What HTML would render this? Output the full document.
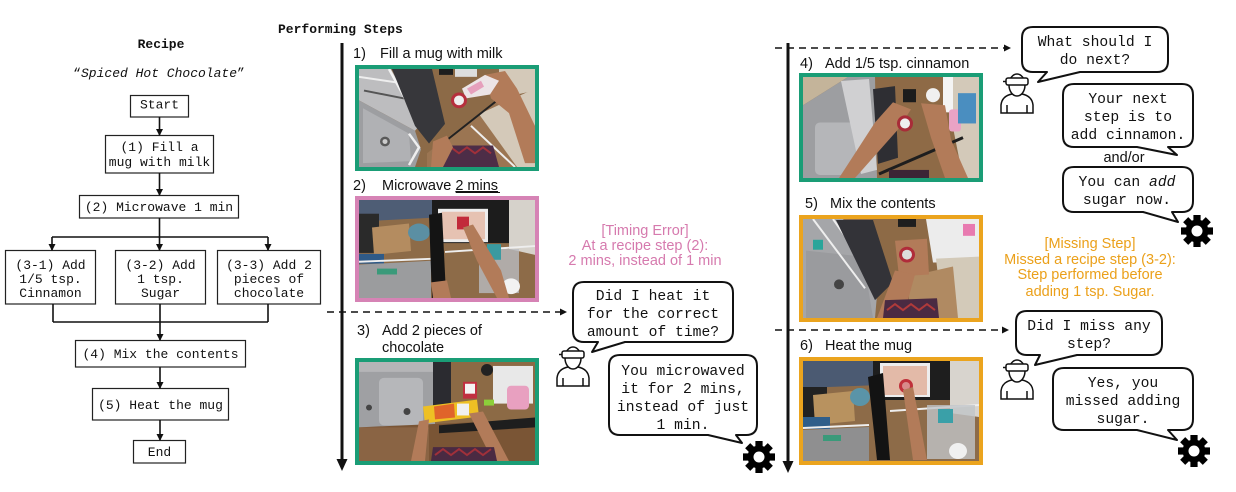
<!DOCTYPE html>
<html><head><meta charset="utf-8"><style>
html,body{margin:0;padding:0;background:#fff;}
svg{display:block;}
.m{font-family:"Liberation Mono",monospace;font-size:13px;fill:#111;}
.b{font-family:"Liberation Mono",monospace;font-size:14.7px;fill:#111;}
.s{font-family:"Liberation Sans",sans-serif;font-size:14.5px;fill:#111;}
.pk{font-family:"Liberation Sans",sans-serif;font-size:14.5px;fill:#d67aae;}
.or{font-family:"Liberation Sans",sans-serif;font-size:14.5px;fill:#eba01a;}
</style></head><body>
<svg width="1236" height="492" viewBox="0 0 1236 492" xmlns="http://www.w3.org/2000/svg">
<defs>
<g id="gear"><circle r="11.5" fill="#000"/>
<rect x="-3.6" y="-16" width="7.2" height="8" fill="#000"/>
<rect x="-3.6" y="-16" width="7.2" height="8" fill="#000" transform="rotate(45)"/>
<rect x="-3.6" y="-16" width="7.2" height="8" fill="#000" transform="rotate(90)"/>
<rect x="-3.6" y="-16" width="7.2" height="8" fill="#000" transform="rotate(135)"/>
<rect x="-3.6" y="-16" width="7.2" height="8" fill="#000" transform="rotate(180)"/>
<rect x="-3.6" y="-16" width="7.2" height="8" fill="#000" transform="rotate(225)"/>
<rect x="-3.6" y="-16" width="7.2" height="8" fill="#000" transform="rotate(270)"/>
<rect x="-3.6" y="-16" width="7.2" height="8" fill="#000" transform="rotate(315)"/>
<circle r="5.5" fill="#fff"/></g>
<g id="person" fill="#fff" stroke="#111" stroke-width="1.5">
<path d="M1,41 L1,33 Q2,24 12,22 L22,22 Q32,24 33,33 L33,41 Z"/>
<path d="M7,41 V33 M27,41 V33" fill="none"/>
<ellipse cx="17" cy="13" rx="8" ry="11"/>
<rect x="6" y="6" width="22" height="7" rx="2"/>
<path d="M6,9.5 H3" fill="none"/>
</g>
<marker id="ah" markerWidth="8" markerHeight="8" refX="7" refY="4" orient="auto" markerUnits="userSpaceOnUse"><path d="M0,0 L8,4 L0,8 Z" fill="#111"/></marker>
<marker id="ahs" markerWidth="7" markerHeight="7" refX="6" refY="3.5" orient="auto" markerUnits="userSpaceOnUse"><path d="M0,0 L7,3.5 L0,7 Z" fill="#111"/></marker>
</defs>

<!-- LEFT: Recipe -->
<text x="161" y="48" text-anchor="middle" class="m" font-weight="bold">Recipe</text>
<text x="159" y="77" text-anchor="middle" class="m">“<tspan font-style="italic">Spiced Hot Chocolate</tspan>”</text>

<g fill="#fff" stroke="#222" stroke-width="1.2">
<rect x="130.5" y="95.5" width="58" height="21.5"/>
<rect x="105.5" y="135.5" width="108" height="37.5"/>
<rect x="79.5" y="195.5" width="159" height="22.5"/>
<rect x="5.5" y="250.5" width="90" height="53.5"/>
<rect x="115.5" y="250.5" width="90" height="53.5"/>
<rect x="217.5" y="250.5" width="103" height="53.5"/>
<rect x="75.5" y="340.5" width="170" height="26.5"/>
<rect x="92.5" y="388.5" width="136" height="31.5"/>
<rect x="133.5" y="440.5" width="52" height="22.5"/>
</g>
<g stroke="#111" stroke-width="1.6" fill="none">
<line x1="159.5" y1="117" x2="159.5" y2="135" marker-end="url(#ahs)"/>
<line x1="159.5" y1="173" x2="159.5" y2="195" marker-end="url(#ahs)"/>
<line x1="159.5" y1="218" x2="159.5" y2="237"/>
<line x1="52" y1="237" x2="268" y2="237"/>
<line x1="52" y1="237" x2="52" y2="250" marker-end="url(#ahs)"/>
<line x1="159.5" y1="237" x2="159.5" y2="250" marker-end="url(#ahs)"/>
<line x1="268" y1="237" x2="268" y2="250" marker-end="url(#ahs)"/>
<line x1="53" y1="304" x2="53" y2="322"/>
<line x1="160" y1="304" x2="160" y2="322"/>
<line x1="268" y1="304" x2="268" y2="322"/>
<line x1="53" y1="322" x2="268" y2="322"/>
<line x1="160" y1="322" x2="160" y2="340" marker-end="url(#ahs)"/>
<line x1="160" y1="367" x2="160" y2="388" marker-end="url(#ahs)"/>
<line x1="160" y1="420" x2="160" y2="440" marker-end="url(#ahs)"/>
</g>
<g class="m" text-anchor="middle">
<text x="159.5" y="108.5" class="m">Start</text>
<text x="159.5" y="151" class="m">(1) Fill a</text>
<text x="159.5" y="166" class="m">mug with milk</text>
<text x="159" y="211" class="m">(2) Microwave 1 min</text>
<text x="50.5" y="269" class="m">(3-1) Add</text>
<text x="50.5" y="283" class="m">1/5 tsp.</text>
<text x="50.5" y="297" class="m">Cinnamon</text>
<text x="160.5" y="269" class="m">(3-2) Add</text>
<text x="160.5" y="283" class="m">1 tsp.</text>
<text x="160.5" y="297" class="m">Sugar</text>
<text x="269" y="269" class="m">(3-3) Add 2</text>
<text x="269" y="283" class="m">pieces of</text>
<text x="269" y="297" class="m">chocolate</text>
<text x="160.5" y="358" class="m">(4) Mix the contents</text>
<text x="160.5" y="409" class="m">(5) Heat the mug</text>
<text x="159.5" y="456" class="m">End</text>
</g>

<!-- Performing Steps -->
<text x="278" y="33" class="m" font-weight="bold">Performing Steps</text>

<!-- timelines -->
<line x1="342" y1="43" x2="342" y2="462" stroke="#111" stroke-width="3"/>
<path d="M336.5,459 L347.5,459 L342,471 Z" fill="#111"/>
<line x1="788" y1="43" x2="788" y2="464" stroke="#111" stroke-width="3"/>
<path d="M782.5,461 L793.5,461 L788,473 Z" fill="#111"/>

<!-- dashed arrows -->
<g stroke="#111" stroke-width="1.6" stroke-dasharray="7,5" fill="none">
<line x1="327" y1="312" x2="560" y2="312"/>
<line x1="775" y1="48" x2="1004" y2="48"/>
<line x1="775" y1="330" x2="1002" y2="330"/>
</g>
<path d="M560,308.5 L567,312 L560,315.5 Z" fill="#111"/>
<path d="M1004,44.5 L1011,48 L1004,51.5 Z" fill="#111"/>
<path d="M1002,326.5 L1009,330 L1002,333.5 Z" fill="#111"/>

<!-- step labels -->
<text x="353" y="58" class="s">1)</text><text x="380" y="58" class="s">Fill a mug with milk</text>
<text x="353" y="190" class="s">2)</text><text x="382" y="190" class="s">Microwave <tspan text-decoration="underline">2 mins</tspan></text>
<line x1="456" y1="192.5" x2="500" y2="192.5" stroke="#111" stroke-width="1"/>
<text x="357" y="335" class="s">3)</text><text x="382" y="335" class="s">Add 2 pieces of</text>
<text x="382" y="352" class="s">chocolate</text>
<text x="800" y="68" class="s">4)</text><text x="825" y="68" class="s">Add 1/5 tsp. cinnamon</text>
<text x="805" y="208" class="s">5)</text><text x="830" y="208" class="s">Mix the contents</text>
<text x="800" y="350" class="s">6)</text><text x="825" y="350" class="s">Heat the mug</text>

<!-- PHOTO 1 -->
<svg x="359" y="69" width="176" height="98" viewBox="0 0 176 100" preserveAspectRatio="none">
<rect width="176" height="100" fill="#8c6a47"/>
<polygon points="68,86 140,30 176,30 176,100 68,100" fill="#9b7552"/>
<polygon points="120,46 176,20 176,100 158,100" fill="#d4c9b9"/>
<polygon points="140,0 176,0 176,22 140,30" fill="#d4c9b9"/>
<line x1="112" y1="58" x2="156" y2="100" stroke="#eee" stroke-width="2"/>
<line x1="86" y1="74" x2="142" y2="29" stroke="#222" stroke-width="2"/>
<polygon points="0,0 32,0 62,56 56,63 0,32" fill="#bdbdbf"/>
<line x1="0" y1="8" x2="40" y2="14" stroke="#eee" stroke-width="2"/>
<line x1="5" y1="22" x2="45" y2="30" stroke="#555" stroke-width="2"/>
<polygon points="0,32 56,63 62,82 56,100 0,100" fill="#9d9ea1"/>
<polygon points="4,40 50,66 52,94 4,96" fill="#b0b1b4"/>
<circle cx="26" cy="74" r="5" fill="#5a5a5a"/><circle cx="26" cy="74" r="2.5" fill="#ccc"/>
<polyline points="50,66 60,80 50,98" fill="none" stroke="#eee" stroke-width="2.5"/>
<line x1="30" y1="0" x2="60" y2="56" stroke="#f2f2f2" stroke-width="2.5"/>
<polygon points="33,0 73,0 86,56 70,76 56,58" fill="#37373b"/>
<polygon points="126,6 146,2 158,20 176,58 176,96 166,96 150,45 132,30" fill="#b27b59"/>
<polygon points="103,20 126,6 140,12 131,26 107,30" fill="#ece4e6"/>
<polygon points="108,20 122,12 125,18 112,26" fill="#e6a0bc"/>
<circle cx="100" cy="32" r="8" fill="#b62f3d"/><circle cx="100" cy="32" r="5" fill="#eee"/>
<rect x="80" y="0" width="14" height="6" fill="#1e1e1e"/>
<rect x="96" y="0" width="22" height="8" fill="#ddd"/>
<polygon points="82,78 134,78 140,100 80,100" fill="#4d2d47"/>
<polyline points="84,86 92,80 100,86 108,80 116,86 124,80 132,86" fill="none" stroke="#a0303a" stroke-width="2"/>
<polygon points="74,74 88,68 94,80 84,100 72,100" fill="#b27b59"/>
</svg>
<rect x="357" y="67" width="180" height="102" fill="none" stroke="#1a9d76" stroke-width="4"/>

<!-- PHOTO 2 -->
<svg x="359" y="200" width="176" height="98" viewBox="0 0 176 100" preserveAspectRatio="none">
<rect width="176" height="100" fill="#8d6b48"/>
<polygon points="0,0 75,0 75,18 0,22" fill="#4e5d75"/>
<rect x="73" y="0" width="80" height="44" fill="#1c1c1c"/>
<rect x="79" y="9" width="50" height="34" fill="#ededed"/>
<rect x="83" y="12" width="43" height="28" fill="#e6c2b2"/>
<rect x="98" y="17" width="12" height="13" fill="#c22a3a"/>
<polygon points="150,0 176,0 176,56 150,50" fill="#d6d2cb"/>
<rect x="0" y="14" width="20" height="40" fill="#2a2a2a"/>
<polygon points="13,28 50,24 52,52 15,56" fill="#b48c60"/>
<ellipse cx="60" cy="33" rx="11" ry="9" fill="#5b8fa3"/>
<rect x="0" y="55" width="25" height="10" fill="#2f5a88"/>
<line x1="0" y1="63" x2="72" y2="60" stroke="#eee" stroke-width="2"/>
<polygon points="0,66 72,62 72,100 0,100" fill="#9b9c9e"/>
<rect x="18" y="70" width="20" height="6" fill="#3a9a7a"/>
<line x1="86" y1="53" x2="176" y2="47" stroke="#eee" stroke-width="2"/>
<rect x="120" y="50" width="40" height="45" fill="#b9bcc0" opacity=".8"/>
<rect x="128" y="45" width="14" height="16" fill="#3a9aa0"/>
<ellipse cx="152" cy="88" rx="9" ry="8" fill="#f2f2f2"/>
<polygon points="104,28 114,25 142,72 150,100 138,100 118,62" fill="#b27b59"/>
<polygon points="70,15 83,13 87,96 73,100" fill="#141414"/>
<polygon points="72,84 88,82 92,100 74,100" fill="#b27b59"/>
</svg>
<rect x="357" y="198" width="180" height="102" fill="none" stroke="#d683b5" stroke-width="4"/>

<!-- PHOTO 3 -->
<svg x="359" y="362" width="176" height="99" viewBox="0 0 176 100" preserveAspectRatio="none">
<rect width="176" height="100" fill="#8c6a45"/>
<rect x="0" y="0" width="76" height="16" fill="#b5b5b7"/>
<rect x="0" y="10" width="76" height="58" fill="#9fa0a3"/>
<rect x="20" y="16" width="44" height="48" rx="5" fill="#b6b7ba"/>
<circle cx="48" cy="50" r="3.5" fill="#444"/>
<circle cx="10" cy="46" r="3" fill="#444"/>
<rect x="74" y="0" width="18" height="52" fill="#2b2b30"/>
<circle cx="128" cy="8" r="6" fill="#222"/>
<rect x="134" y="4" width="40" height="38" fill="#e8e8e8"/>
<rect x="148" y="24" width="22" height="24" rx="4" fill="#e8a0c0"/>
<rect x="104" y="20" width="14" height="17" fill="#c03040"/>
<rect x="106" y="22" width="10" height="10" fill="#f4f4f4"/>
<polygon points="0,66 176,58 176,100 0,100" fill="#7a5535"/>
<polygon points="80,64 176,56 176,66 80,72" fill="#1e1e1e"/>
<rect x="0" y="66" width="70" height="34" fill="#8a6444"/>
<polygon points="64,45 118,38 120,55 66,62" fill="#eec024"/>
<polygon points="75,45 95,42 96,56 76,58" fill="#e0642a"/>
<rect x="98" y="42" width="12" height="12" fill="#f0f0f0"/>
<polygon points="60,60 70,58 66,100 52,100" fill="#b27b59"/>
<polygon points="110,52 124,50 150,100 134,100" fill="#b27b59"/>
<rect x="125" y="38" width="10" height="6" fill="#8ccf3a"/>
<polygon points="74,86 135,86 138,100 72,100" fill="#4a2a42"/>
<polyline points="76,94 84,88 92,94 100,88 108,94 116,88 124,94 132,88" fill="none" stroke="#a0303a" stroke-width="2"/>
</svg>
<rect x="357" y="360" width="180" height="103" fill="none" stroke="#1a9d76" stroke-width="4"/>

<!-- PHOTO 4 -->
<svg x="803" y="77" width="176" height="101" viewBox="0 0 176 100" preserveAspectRatio="none">
<rect width="176" height="100" fill="#8e6a46"/>
<polygon points="0,0 45,0 0,28" fill="#c4b49a"/>
<polygon points="0,28 45,0 72,0 74,100 0,100" fill="#9d9ea1"/>
<rect x="12" y="45" width="44" height="52" rx="5" fill="#b5b6b9"/>
<polygon points="38,4 66,2 74,92 58,96" fill="#d0d0d2"/>
<polygon points="70,12 92,9 95,80 75,86" fill="#2e2e33"/>
<rect x="100" y="12" width="13" height="13" fill="#1c1c1c"/>
<circle cx="130" cy="18" r="7" fill="#f0f0f0"/>
<polygon points="140,0 176,0 176,100 160,100" fill="#d3c9b9"/>
<rect x="140" y="0" width="10" height="35" fill="#f4f4f4"/>
<rect x="146" y="32" width="12" height="22" rx="3" fill="#e9a3c5"/>
<rect x="155" y="16" width="18" height="30" fill="#4a8ec0"/>
<line x1="76" y1="96" x2="160" y2="60" stroke="#1e1e1e" stroke-width="3"/>
<polygon points="36,100 52,100 95,52 108,32 90,25 72,45" fill="#b27b59"/>
<polygon points="118,26 142,28 148,62 165,100 142,100 128,60" fill="#b27b59"/>
<circle cx="102" cy="46" r="8" fill="#a82c38"/><circle cx="102" cy="46" r="5" fill="#eee"/>
<rect x="86" y="92" width="40" height="8" fill="#3c2436"/>
</svg>
<rect x="801" y="75" width="180" height="105" fill="none" stroke="#1a9d76" stroke-width="4"/>

<!-- PHOTO 5 -->
<svg x="803" y="219" width="176" height="99" viewBox="0 0 176 100" preserveAspectRatio="none">
<rect width="176" height="100" fill="#8d6a46"/>
<polygon points="0,0 40,0 75,65 72,100 0,100" fill="#a5a6a9"/>
<polygon points="3,32 60,38 70,100 3,100" fill="#9a9b9e"/>
<circle cx="36" cy="66" r="5" fill="#444"/>
<line x1="10" y1="0" x2="62" y2="70" stroke="#eee" stroke-width="2"/>
<line x1="30" y1="0" x2="72" y2="60" stroke="#eee" stroke-width="2"/>
<rect x="10" y="21" width="10" height="10" fill="#2aa59a"/>
<polygon points="33,1 70,1 90,64 72,82" fill="#333338"/>
<rect x="95" y="0" width="18" height="8" fill="#1e1e1e"/>
<polygon points="123,0 176,0 176,44 130,44" fill="#ececec"/>
<rect x="160" y="5" width="12" height="12" fill="#e87ab0"/>
<polygon points="133,40 176,38 176,100 140,100" fill="#d3cab9"/>
<polygon points="106,58 150,48 155,100 106,100" fill="#b08a62"/>
<polygon points="92,22 124,20 126,56 96,58" fill="#b27b59"/>
<circle cx="104" cy="36" r="8" fill="#b02c3a"/><circle cx="104" cy="36" r="5" fill="#ddd"/>
<polygon points="92,52 112,56 100,100 74,100" fill="#b27b59"/>
<polygon points="82,82 134,80 136,100 80,100" fill="#4a2a42"/>
<polyline points="84,92 92,86 100,92 108,86 116,92 124,86 132,92" fill="none" stroke="#b03a3a" stroke-width="2"/>
</svg>
<rect x="801" y="217" width="180" height="103" fill="none" stroke="#eba41e" stroke-width="4"/>

<!-- PHOTO 6 -->
<svg x="803" y="361" width="176" height="100" viewBox="0 0 176 100" preserveAspectRatio="none">
<rect width="176" height="100" fill="#8d6b48"/>
<polygon points="0,0 77,0 77,24 0,27" fill="#4b5a72"/>
<rect x="70" y="0" width="77" height="39" fill="#1e1e1e"/>
<rect x="77" y="2" width="50" height="34" fill="#eeeeee"/>
<rect x="80" y="5" width="44" height="29" fill="#e3baa8"/>
<circle cx="103" cy="25" r="7" fill="#c0303a"/><circle cx="103" cy="25" r="4" fill="#d88a8a"/>
<polygon points="147,0 176,0 176,56 147,52" fill="#d8d4ce"/>
<rect x="0" y="26" width="24" height="30" fill="#222"/>
<polygon points="10,34 50,30 52,60 12,64" fill="#b8925f"/>
<ellipse cx="57" cy="36" rx="10" ry="9" fill="#5a94a8"/>
<rect x="0" y="56" width="27" height="12" fill="#2f5e8a"/>
<line x1="0" y1="67" x2="66" y2="64" stroke="#eee" stroke-width="2"/>
<polygon points="0,69 66,66 66,100 0,100" fill="#8f8f90"/>
<rect x="20" y="74" width="18" height="6" fill="#3a9a7a"/>
<line x1="87" y1="50" x2="176" y2="44" stroke="#eee" stroke-width="2"/>
<rect x="124" y="44" width="48" height="54" fill="#c0c4c8" opacity=".8"/>
<rect x="135" y="48" width="15" height="14" fill="#3aa0a8"/>
<ellipse cx="155" cy="90" rx="9" ry="8" fill="#f0f0f0"/>
<polygon points="100,29 110,26 124,99 110,99" fill="#b27b59"/>
<polygon points="65,16 80,12 87,99 74,99" fill="#131313"/>
</svg>
<rect x="801" y="359" width="180" height="104" fill="none" stroke="#eba41e" stroke-width="4"/>

<!-- annotations -->
<g text-anchor="middle">
<text x="645" y="235" class="pk">[Timing Error]</text>
<text x="645" y="250" class="pk">At a recipe step (2):</text>
<text x="645" y="265" class="pk">2 mins, instead of 1 min</text>
<text x="1090" y="248" class="or">[Missing Step]</text>
<text x="1090" y="264" class="or">Missed a recipe step (3-2):</text>
<text x="1090" y="279" class="or">Step performed before</text>
<text x="1090" y="296" class="or">adding 1 tsp. Sugar.</text>
<text x="1124" y="162" class="s" font-size="14">and/or</text>
</g>

<!-- speech bubbles -->
<g fill="#fff" stroke="#111" stroke-width="2" stroke-linejoin="round">
<path d="M584,282 H722 Q733,282 733,293 V331 Q733,342 722,342 H625 L592,352 L598,342 H584 Q573,342 573,331 V293 Q573,282 584,282 Z"/>
<path d="M620,355 H746 Q757,355 757,366 V424 Q757,435 746,435 H736 L742,443 L708,435 H620 Q609,435 609,424 V366 Q609,355 620,355 Z"/>
<path d="M1033,27 H1157 Q1168,27 1168,38 V61 Q1168,72 1157,72 H1080 L1038,82 L1047,72 H1033 Q1022,72 1022,61 V38 Q1022,27 1033,27 Z"/>
<path d="M1074,84 H1182 Q1193,84 1193,95 V136 Q1193,147 1182,147 H1168 L1177,155 L1137,147 H1074 Q1063,147 1063,136 V95 Q1063,84 1074,84 Z"/>
<path d="M1074,167 H1182 Q1193,167 1193,178 V201 Q1193,212 1182,212 H1172 L1178,222 L1143,212 H1074 Q1063,212 1063,201 V178 Q1063,167 1074,167 Z"/>
<path d="M1027,311 H1151 Q1162,311 1162,322 V344 Q1162,355 1151,355 H1077 L1035,365 L1040,355 H1027 Q1016,355 1016,344 V322 Q1016,311 1027,311 Z"/>
<path d="M1064,368 H1182 Q1193,368 1193,379 V419 Q1193,430 1182,430 H1168 L1177,440 L1137,430 H1064 Q1053,430 1053,419 V379 Q1053,368 1064,368 Z"/>
</g>
<g text-anchor="middle">
<text x="653" y="300" class="b">Did I heat it</text>
<text x="653" y="318" class="b">for the correct</text>
<text x="653" y="336" class="b">amount of time?</text>
<text x="683" y="375" class="b">You microwaved</text>
<text x="683" y="393" class="b">it for 2 mins,</text>
<text x="683" y="411" class="b">instead of just</text>
<text x="683" y="429" class="b">1 min.</text>
<text x="1095" y="46" class="b">What should I</text>
<text x="1095" y="64" class="b">do next?</text>
<text x="1128" y="103" class="b">Your next</text>
<text x="1128" y="121" class="b">step is to</text>
<text x="1128" y="139" class="b">add cinnamon.</text>
<text x="1127" y="186" class="b">You can <tspan font-style="italic">add</tspan></text>
<text x="1127" y="204" class="b">sugar now.</text>
<text x="1089" y="330" class="b">Did I miss any</text>
<text x="1089" y="348" class="b">step?</text>
<text x="1123" y="387" class="b">Yes, you</text>
<text x="1123" y="405" class="b">missed adding</text>
<text x="1123" y="423" class="b">sugar.</text>
</g>

<!-- persons -->
<use href="#person" x="556" y="345"/>
<use href="#person" x="1000" y="72"/>
<use href="#person" x="1000" y="358"/>

<!-- gears -->
<use href="#gear" x="759" y="457"/>
<use href="#gear" x="1197" y="231"/>
<use href="#gear" x="1194" y="451"/>
</svg>
</body></html>
